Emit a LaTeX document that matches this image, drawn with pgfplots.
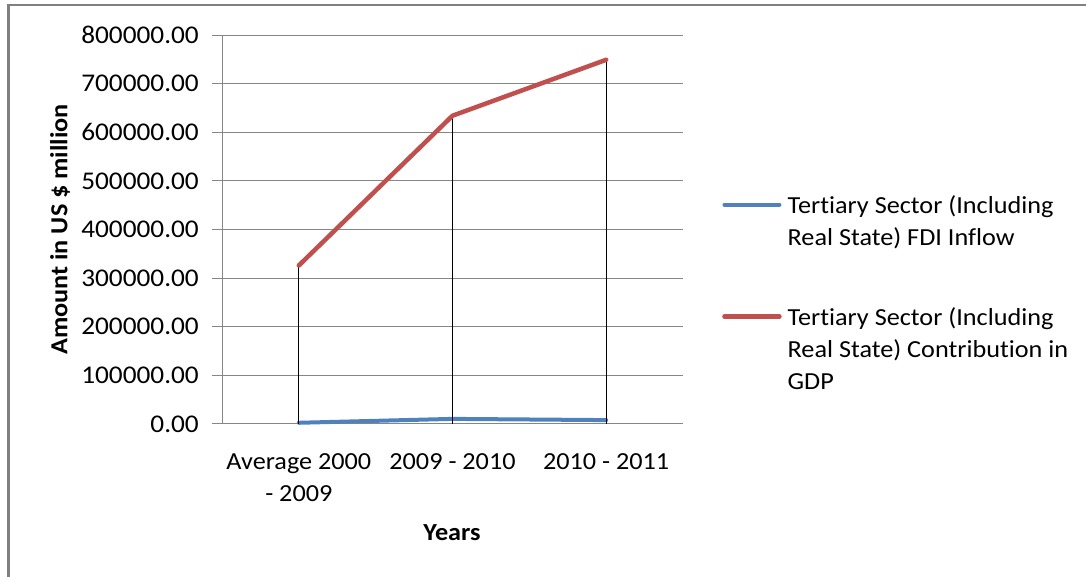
\documentclass[border=0pt]{standalone}
\usepackage{fontspec}
\setmainfont{Carlito}[FakeStretch=1.07, Ligatures=NoCommon,
  BoldFont={Carlito Bold}]
\usepackage{pgfplots}
\pgfplotsset{compat=1.18}

\definecolor{gridgray}{RGB}{134,134,134}
\definecolor{framegray}{RGB}{128,128,128}
\definecolor{fdiblue}{RGB}{79,129,189}
\definecolor{gdpred}{RGB}{192,80,77}

% one legend entry, its first line on the baseline
\newcommand{\entry}[1]{\begin{tabular}[t]{@{}l@{}}#1\end{tabular}}

\begin{document}
\begin{tikzpicture}[x=1pt,y=1pt,font=\fontsize{24.5}{32}\selectfont]
% chart area and its frame
\path[use as bounding box] (0,0) rectangle (1086,577);
\draw[framegray, line width=3pt] (8.5,0) -- (8.5,572);
\draw[framegray, line width=1.2pt] (7,572) -- (1086,572);

\begin{axis}[
  at={(222pt,153pt)}, anchor=south west,
  scale only axis, width=461pt, height=389pt,
  xmin=-0.5, xmax=2.5, ymin=0, ymax=800000,
  clip=false,
  axis lines*=left,
  axis line style={gridgray, line width=1pt},
  xtick={0,1,2},
  xticklabels={{Average 2000\\- 2009},{2009 - 2010},{2010 - 2011}},
  x tick style={draw=none},
  x tick label style={align=center, anchor=north, inner sep=0pt, yshift=-19pt},
  ytick={0,100000,...,800000},
  ymajorgrids,
  major grid style={gridgray, line width=1pt},
  y tick style={gridgray, line width=1pt},
  tick align=outside, major tick length=10pt,
  scaled y ticks=false,
  y tick label style={inner sep=0pt, anchor=east, xshift=-13pt,
    font=\fontsize{25.5}{32}\selectfont,
    /pgf/number format/.cd, fixed, fixed zerofill, precision=2,
    1000 sep={}, assume math mode=true},
  xlabel={Years},
  ylabel={Amount in US \$ million},
  every axis x label/.style={at={(axis description cs:0.499,-0.280)},
    anchor=center, font=\bfseries\fontsize{24.5}{32}\selectfont},
  every axis y label/.style={at={(axis description cs:-0.351,0.5)},
    rotate=90, anchor=center, font=\bfseries\fontsize{24.5}{32}\selectfont},
  legend style={draw=none, fill=none, inner sep=0pt,
    at={(axis description cs:1.0846,0.600)}, anchor=north west,
    column sep=6pt, row sep=88pt,
    nodes={inner sep=0pt}, cells={anchor=base west}},
  legend image code/.code={\draw[#1] (0pt,8.5pt) -- (55pt,8.5pt);},
]
% FDI inflow
\addplot[fdiblue, line width=4pt, line cap=round, line join=round]
  coordinates {(0,2500) (1,10500) (2,8000)};
\addlegendentry{\entry{Tertiary Sector (Including\\Real State) FDI Inflow}}

% drop lines down to the category axis
\addplot[black, line width=1pt, ycomb, forget plot]
  coordinates {(0,326000) (2,749000)};
\addplot[black, line width=1.8pt, ycomb, forget plot]
  coordinates {(1,634000)};

% contribution in GDP
\addplot[gdpred, line width=4.5pt, line cap=round, line join=round]
  coordinates {(0,326000) (1,634000) (2,749000)};
\addlegendentry{\entry{Tertiary Sector (Including\\Real State) Contribution in\\GDP}}
\end{axis}
\end{tikzpicture}
\end{document}
